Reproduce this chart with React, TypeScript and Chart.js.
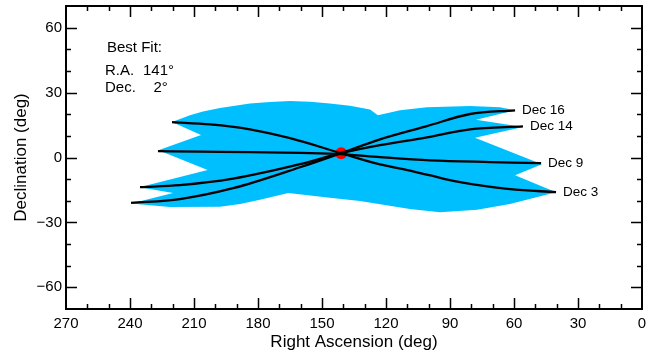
import React, { useEffect, useRef } from 'react';
import { Chart, registerables } from 'chart.js';

Chart.register(...registerables);

// ---- Data ----
const xTickValues = [270, 240, 210, 180, 150, 120, 90, 60, 30, 0];
const yTickValues = [-60, -30, 0, 30, 60];

const curveLabels = ['Dec 3', 'Dec 9', 'Dec 14', 'Dec 16'];

const dec3RA = [220.3, 202.5, 183.8, 165.0, 141.1, 122.8, 112.0, 100.8, 85.3, 61.9, 40.3];
const dec3Dec = [16.3, 15.3, 13.0, 8.9, 2.0, -3.2, -5.4, -7.9, -11.4, -14.6, -16.0];

const dec9RA = [226.9, 207.2, 183.8, 160.3, 141.1, 122.8, 99.4, 71.3, 47.3];
const dec9Dec = [2.9, 2.7, 2.5, 2.1, 1.6, 0.2, -1.3, -2.1, -2.6];

const dec14RA = [235.3, 216.6, 191.7, 160.3, 141.1, 122.8, 100.8, 80.6, 55.8];
const dec14Dec = [-13.7, -12.8, -9.8, -3.1, 2.0, 5.7, 9.3, 13.0, 14.4];

const dec16RA = [239.5, 216.6, 191.7, 160.3, 141.1, 122.8, 100.8, 80.6, 59.5];
const dec16Dec = [-21.0, -19.2, -14.2, -4.5, 2.0, 8.4, 14.5, 20.1, 21.8];

const bandRA = [
  220.3, 211.9, 205.8, 197.8, 183.8, 174.4, 165.0, 155.6, 146.3, 136.9, 127.5, 123.8, 113.4, 100.8, 80.6, 66.6, 59.5,
  77.8, 55.8, 78.3, 46.9, 59.5, 40.3,
  61.9, 77.3, 94.7, 108.8, 132.2, 146.3, 165.8, 179.1, 188.4, 197.8, 221.3, 239.5,
  219.8, 235.6, 203.6, 226.7, 206.7,
];
const bandDec = [
  16.4, 19.5, 21.3, 22.9, 25.0, 25.7, 26.1, 25.8, 25.0, 23.9, 22.2, 19.5, 21.8, 23.2, 23.8, 23.2, 21.8,
  17.4, 14.1, 9.1, -3.1, -8.2, -16.1,
  -21.5, -24.1, -25.3, -23.8, -20.1, -18.6, -16.4, -19.5, -21.5, -22.7, -22.9, -21.2,
  -16.4, -13.7, -5.8, 3.4, 10.4,
];

const bestFitRA = 141;
const bestFitDec = 2;

const FONT = '"Liberation Sans", Arial, Helvetica, sans-serif';
const BAND_COLOR = '#00BFFF';

const toPoints = (xs: number[], ys: number[]) => xs.map((x, i) => ({ x, y: ys[i] }));

const bandPlugin = {
  id: 'bandFill',
  beforeDatasetsDraw(chart: any) {
    const meta = chart.getDatasetMeta(0);
    const pts = meta.data;
    const ctx = chart.ctx;
    const a = chart.chartArea;
    ctx.save();
    ctx.beginPath();
    ctx.rect(a.left, a.top, a.right - a.left, a.bottom - a.top);
    ctx.clip();
    ctx.beginPath();
    pts.forEach((p: any, i: number) => (i ? ctx.lineTo(p.x, p.y) : ctx.moveTo(p.x, p.y)));
    ctx.closePath();
    ctx.fillStyle = BAND_COLOR;
    ctx.fill();
    ctx.restore();
  },
};

const annotPlugin = {
  id: 'annot',
  afterDatasetsDraw(chart: any) {
    const ctx = chart.ctx;
    ctx.save();
    ctx.fillStyle = '#000';
    ctx.textBaseline = 'middle';
    ctx.textAlign = 'left';
    ctx.font = `13.5px ${FONT}`;
    curveLabels.forEach((lab, i) => {
      const meta = chart.getDatasetMeta(1 + i);
      const last = meta.data[meta.data.length - 1];
      ctx.fillText(lab, last.x + 7, last.y);
    });
    ctx.font = `15px ${FONT}`;
    ctx.fillText('Best Fit:', 107, 48);
    ctx.fillText('R.A.', 105, 71);
    ctx.fillText(`${bestFitRA}\u00B0`, 143, 71);
    ctx.fillText('Dec.', 105, 88);
    ctx.fillText(`${bestFitDec}\u00B0`, 153.5, 88);
    ctx.restore();
  },
  afterDraw(chart: any) {
    const ctx = chart.ctx;
    const a = chart.chartArea;
    const xs = chart.scales.x;
    const ys = chart.scales.y;
    ctx.save();
    ctx.strokeStyle = '#000';
    ctx.lineWidth = 1.5;
    ctx.beginPath();
    for (let v = 10; v < 270; v += 10) {
      const px = Math.round(xs.getPixelForValue(v)) + 0.5;
      const len = v % 30 === 0 ? 11 : 5;
      ctx.moveTo(px, a.bottom);
      ctx.lineTo(px, a.bottom - len);
      ctx.moveTo(px, a.top);
      ctx.lineTo(px, a.top + len);
    }
    for (let v = -60; v <= 60; v += 10) {
      const py = Math.round(ys.getPixelForValue(v)) + 0.5;
      const len = v % 30 === 0 ? 11 : 5;
      ctx.moveTo(a.left, py);
      ctx.lineTo(a.left + len, py);
      ctx.moveTo(a.right, py);
      ctx.lineTo(a.right - len, py);
    }
    ctx.stroke();
    ctx.lineWidth = 2;
    ctx.strokeRect(a.left, a.top, a.right - a.left, a.bottom - a.top);
    ctx.restore();
  },
};

export default function App() {
  const ref = useRef<HTMLCanvasElement | null>(null);
  useEffect(() => {
    if (!ref.current) return;
    const curveSets = [
      [dec3RA, dec3Dec],
      [dec9RA, dec9Dec],
      [dec14RA, dec14Dec],
      [dec16RA, dec16Dec],
    ].map(([xs, ys], i) => ({
      label: curveLabels[i],
      data: toPoints(xs, ys),
      showLine: true,
      borderColor: '#000',
      borderWidth: 2.3,
      pointRadius: 0,
      cubicInterpolationMode: 'monotone' as const,
      fill: false,
    }));
    const chart = new Chart(ref.current, {
      type: 'scatter',
      data: {
        datasets: [
          {
            label: 'band',
            data: toPoints(bandRA, bandDec),
            showLine: false,
            pointRadius: 0,
            backgroundColor: BAND_COLOR,
          },
          ...curveSets,
          {
            label: 'Best Fit',
            data: [{ x: bestFitRA, y: bestFitDec }],
            pointRadius: 6,
            pointBackgroundColor: '#FF0000',
            pointBorderWidth: 0,
            showLine: false,
          },
        ],
      },
      options: {
        responsive: false,
        animation: false,
        events: [],
        layout: { padding: { top: 6, right: 15, left: 0, bottom: 0 } },
        plugins: { legend: { display: false }, tooltip: { enabled: false } },
        scales: {
          x: {
            type: 'linear',
            reverse: true,
            min: 0,
            max: 270,
            afterBuildTicks: (s: any) => {
              s.ticks = xTickValues.map((v) => ({ value: v }));
            },
            afterFit: (s: any) => {
              s.height = 47;
              s.paddingLeft = 0;
              s.paddingRight = 0;
            },
            grid: { display: false, drawTicks: false },
            border: { display: false },
            ticks: {
              autoSkip: false,
              maxRotation: 0,
              padding: 6,
              color: '#000',
              font: { family: FONT, size: 15 },
              callback: (v: any) => String(v),
            },
            title: {
              display: true,
              text: 'Right Ascension (deg)',
              color: '#000',
              font: { family: FONT, size: 17 },
              padding: { top: 0, bottom: 3 },
            },
          },
          y: {
            type: 'linear',
            min: -70,
            max: 70,
            afterBuildTicks: (s: any) => {
              s.ticks = yTickValues.map((v) => ({ value: v }));
            },
            afterFit: (s: any) => {
              s.width = 66;
              s.paddingTop = 0;
              s.paddingBottom = 0;
            },
            grid: { display: false, drawTicks: false },
            border: { display: false },
            ticks: {
              autoSkip: false,
              padding: 4,
              color: '#000',
              font: { family: FONT, size: 15 },
              callback: (v: any) => (v < 0 ? '\u2212' + Math.abs(v) : String(v)),
            },
            title: {
              display: true,
              text: 'Declination (deg)',
              color: '#000',
              font: { family: FONT, size: 17 },
              padding: { top: 11, bottom: 0 },
            },
          },
        },
      },
      plugins: [bandPlugin, annotPlugin],
    });
    return () => chart.destroy();
  }, []);
  return (
    <div style={{ position: 'absolute', left: 0, top: 0, width: 657, height: 356, background: '#fff' }}>
      <canvas ref={ref} width={657} height={356} style={{ display: 'block' }} />
    </div>
  );
}
